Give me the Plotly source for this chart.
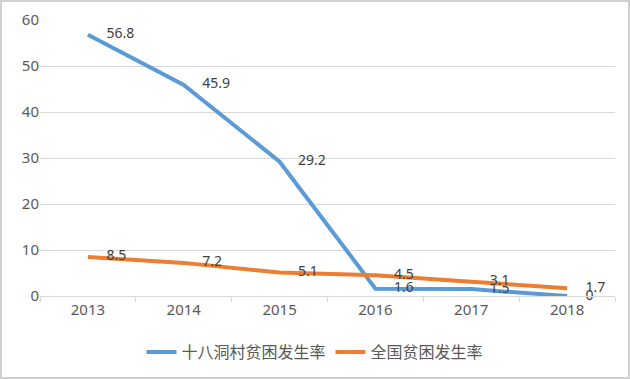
import plotly.graph_objects as go

years = ["2013", "2014", "2015", "2016", "2017", "2018"]
village_rate = [56.8, 45.9, 29.2, 1.6, 1.5, 0]
national_rate = [8.5, 7.2, 5.1, 4.5, 3.1, 1.7]
series_names = ["十八洞村贫困发生率", "全国贫困发生率"]
y_ticks = [0, 10, 20, 30, 40, 50, 60]

FONT = "Noto Sans, Noto Sans CJK SC, sans-serif"
W, H = 630, 379
ML, MR, MT, MB = 40, 15, 20, 83
PW, PH = W - ML - MR, H - MT - MB

fig = go.Figure()
for vals, name, color in [(village_rate, series_names[0], "#5B9BD5"),
                          (national_rate, series_names[1], "#ED7D31")]:
    fig.add_trace(go.Scatter(
        x=years, y=vals, name=name, mode="lines+markers+text",
        line=dict(color=color, width=4),
        marker=dict(size=28, symbol="circle", color="rgba(0,0,0,0)",
                    line=dict(width=0, color="rgba(0,0,0,0)")),
        text=[f"{v:g}" for v in vals], textposition="middle right",
        textfont=dict(family=FONT, size=14, color="#404040"),
        cliponaxis=False,
    ))

fig.update_layout(
    width=W, height=H,
    margin=dict(l=ML, r=MR, t=MT, b=MB, autoexpand=False),
    paper_bgcolor="white", plot_bgcolor="white",
    font=dict(family=FONT, size=13, color="#595959"),
    showlegend=True,
    legend=dict(orientation="h", xref="container", yref="container",
                x=0.5, xanchor="center", y=1 - 352 / H, yanchor="middle",
                font=dict(family=FONT, size=16, color="#595959"),
                itemwidth=30, tracegroupgap=0),
    xaxis=dict(type="category", range=[-0.5, 5.5], automargin=False,
               showgrid=False, showline=True,
               linecolor="#d9d9d9", linewidth=1,
               ticks="outside", tickson="boundaries", ticklen=5,
               tickcolor="#d9d9d9",
               tickfont=dict(family=FONT, size=15, color="#595959")),
    yaxis=dict(range=[0, 60], tickvals=y_ticks, showgrid=True, automargin=False,
               gridcolor="#d9d9d9", gridwidth=1, zeroline=False,
               showline=False, ticks="",
               tickfont=dict(family=FONT, size=15, color="#595959")),
    shapes=[dict(type="rect", xref="paper", yref="paper",
                 x0=-(ML - 1) / PW, x1=1 + (MR - 1) / PW,
                 y0=-(MB - 1) / PH, y1=1 + (MT - 1) / PH,
                 line=dict(color="#d0d0d0", width=2))],
)

fig.write_html("out.html",
               config={"displayModeBar": False},
               post_script="document.body.style.margin='0px';"
                           "document.body.style.overflow='hidden';")
